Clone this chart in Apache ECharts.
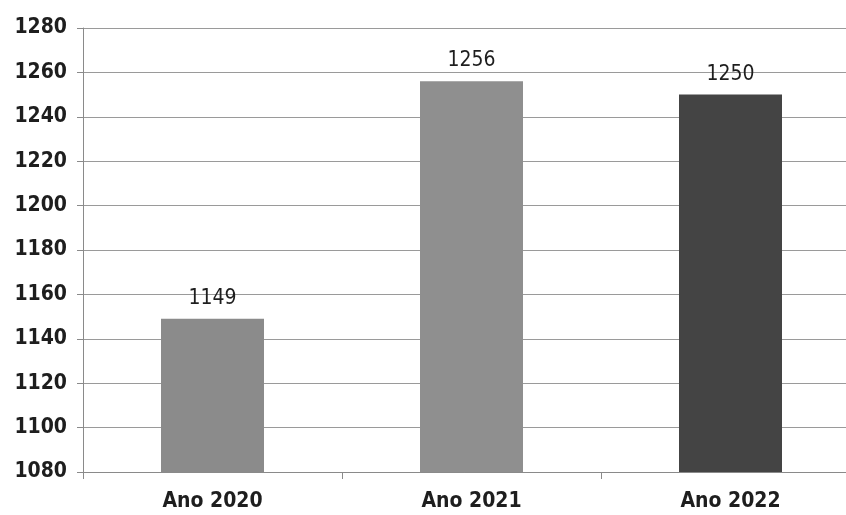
<!DOCTYPE html>
<html>
<head>
<meta charset="utf-8">
<style>
  html, body { margin: 0; padding: 0; background: #fff; }
  #chart { width: 846px; height: 515px; }
</style>
<script src="https://cdn.jsdelivr.net/npm/echarts@6/dist/echarts.min.js"></script>
</head>
<body>
<div id="chart"></div>
<script>
// Yearly totals
const categories = ['Ano 2020', 'Ano 2021', 'Ano 2022'];
const values = [1149, 1256, 1250];
const barColors = ['#8b8b8b', '#8f8f8f', '#444444'];
const yMin = 1080;
const yMax = 1280;
const yStep = 20;

const FONT = '"Liberation Sans Narrow", "DejaVu Sans Condensed", "Open Sans", sans-serif';

const chart = echarts.init(document.getElementById('chart'), null, { renderer: 'canvas' });

chart.setOption({
  animation: false,
  backgroundColor: '#ffffff',
  // plot area runs past the right edge of the canvas
  grid: { left: 83, width: 777, top: 28, bottom: 43, containLabel: false, outerBoundsMode: 'none' },
  xAxis: {
    type: 'category',
    data: categories,
    boundaryGap: true,
    axisLine: { show: true, lineStyle: { color: '#8a8a8a', width: 1 } },
    axisTick: { show: true, length: 7, alignWithLabel: false, lineStyle: { color: '#8a8a8a' } },
    axisLabel: {
      margin: 19,
      color: '#1e1e1e',
      fontFamily: FONT,
      fontWeight: 'bold',
      fontSize: 21
    },
    splitLine: { show: false }
  },
  yAxis: {
    type: 'value',
    min: yMin,
    max: yMax,
    interval: yStep,
    axisLine: { show: true, lineStyle: { color: '#8a8a8a', width: 1 } },
    axisTick: { show: true, length: 6, lineStyle: { color: '#8a8a8a' } },
    axisLabel: {
      margin: 16,
      color: '#1e1e1e',
      fontFamily: FONT,
      fontWeight: 'bold',
      fontSize: 21,
      formatter: (v) => String(v)
    },
    splitLine: { show: true, lineStyle: { color: '#9a9a9a', width: 1 } }
  },
  series: [{
    type: 'bar',
    data: values.map((v, i) => ({ value: v, itemStyle: { color: barColors[i] } })),
    barWidth: 103,
    label: {
      show: true,
      position: 'top',
      distance: 10,
      color: '#1e1e1e',
      fontFamily: FONT,
      fontSize: 21
    }
  }]
});
</script>
</body>
</html>
